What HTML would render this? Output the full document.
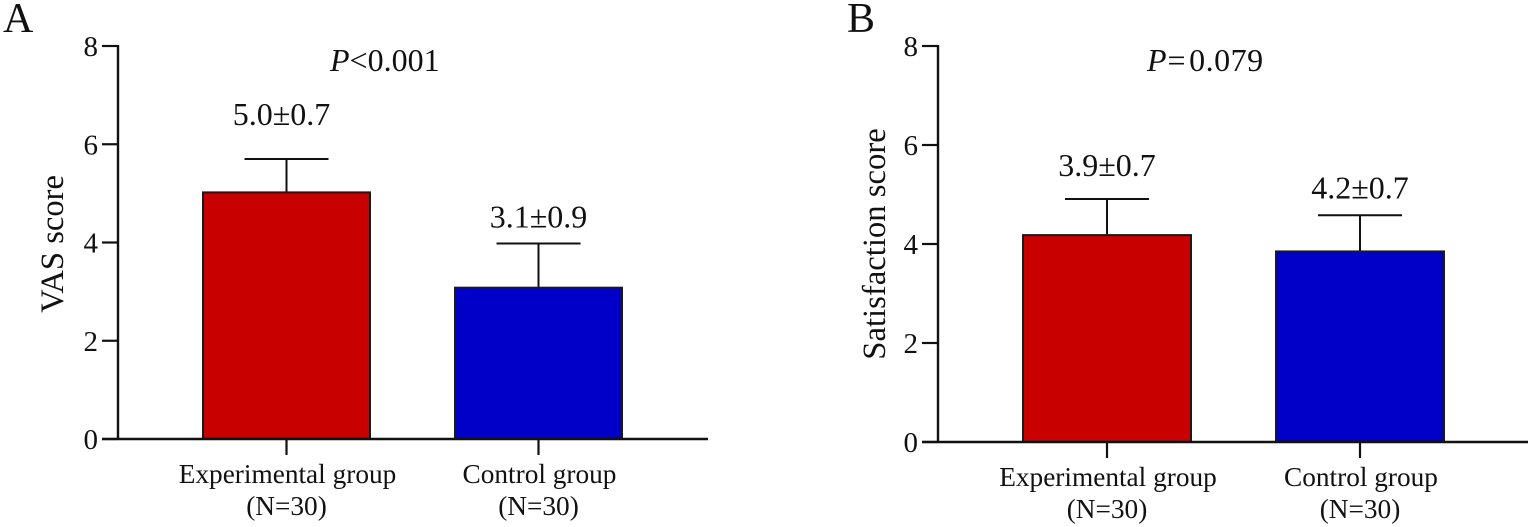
<!DOCTYPE html>
<html><head><meta charset="utf-8"><title>VAS and satisfaction scores</title>
<style>
html,body{margin:0;padding:0;background:#fff;width:1535px;height:527px;overflow:hidden}
svg{display:block;font-family:"Liberation Serif",serif;fill:#111}
</style></head>
<body>
<svg id="chart" width="1535" height="527" viewBox="0 0 1535 527" xmlns="http://www.w3.org/2000/svg"></svg>
<script>
const categories = ["Experimental group", "Control group"];
const sampleLabels = ["(N=30)", "(N=30)"];
const yTicks = [0, 2, 4, 6, 8];
const vasMeans = [5.02, 3.08];
const vasErrorTops = [5.70, 3.98];
const vasLabels = ["5.0±0.7", "3.1±0.9"];
const satisfactionMeans = [4.18, 3.85];
const satisfactionErrorTops = [4.91, 4.58];
const satisfactionLabels = ["3.9±0.7", "4.2±0.7"];
const colors = ["#c80000", "#0000c8"];

const NS = "http://www.w3.org/2000/svg";
const root = document.getElementById("chart");
function make(parent, tag, attrs, text) {
  const el = document.createElementNS(NS, tag);
  for (const k in attrs) el.setAttribute(k, attrs[k]);
  if (text !== undefined) el.textContent = text;
  parent.appendChild(el);
  return el;
}
function line(parent, x1, y1, x2, y2, w) {
  return make(parent, "line", {x1, y1, x2, y2, stroke: "#111", "stroke-width": w});
}
function panel(cfg) {
  const g = make(root, "g", {});
  
  
  const y = v => cfg.y0 + (cfg.y8 - cfg.y0) * v / 8;
  const x = i => cfg.firstCenter + i * cfg.step;

  const letter = make(g, "text", {x: cfg.letterX, y: 32, "font-size": 42}, cfg.letter);
  
  

  const title = make(g, "text", {x: cfg.titleX, y: 71, "font-size": 32});
  
  
  make(title, "tspan", {"font-style": "italic", "letter-spacing": cfg.signGap[0]}, "P");
  make(title, "tspan", {"letter-spacing": cfg.signGap[1]}, cfg.pSign);
  make(title, "tspan", {"letter-spacing": cfg.signGap[2]}, cfg.pDigits);

  const yt = make(g, "text", {
    transform: `translate(${cfg.yTitleX},${cfg.yTitleY}) rotate(-90)`,
    "font-size": cfg.yTitleSize, "text-anchor": "middle"
  }, cfg.yTitle);
  
  

  cfg.means.forEach((m, i) => {
    const err = make(g, "g", {});
    
    
    line(err, x(i), y(m), x(i), y(cfg.tops[i]), 2);
    line(err, x(i) - 42, y(cfg.tops[i]), x(i) + 42, y(cfg.tops[i]), 2);

    const bar = make(g, "rect", {
      x: x(i) - cfg.barW / 2, y: y(m), width: cfg.barW, height: y(0) - y(m),
      fill: colors[i], stroke: "#1a1a1a", "stroke-width": 2
    });
    
    

    const value = make(g, "text", {
      x: x(i) + cfg.labelShift[i], y: y(cfg.tops[i]) - cfg.labelGap[i], "font-size": 32, "text-anchor": "middle"
    }, cfg.labels[i]);
    
    

    line(g, x(i), y(0), x(i), y(0) + 16, 2.2);

    const cat = make(g, "text", {
      x: x(i) + 1, y: y(0) + 44, "font-size": 27.3, "text-anchor": "middle"
    }, categories[i]);
    
    

    const n = make(g, "text", {
      x: x(i), y: y(0) + 76, "font-size": 27.3, "text-anchor": "middle"
    }, sampleLabels[i]);
    
    
  });

  const yAxis = line(g, cfg.axisX, y(8) - 1, cfg.axisX, y(0), 2.4);
  
  
  const xAxis = line(g, cfg.axisX - 16, y(0), cfg.xEnd, y(0), 2.4);
  
  

  yTicks.forEach(t => {
    line(g, cfg.axisX - 16, y(t), cfg.axisX, y(t), 2.2);
    const lab = make(g, "text", {
      x: cfg.axisX - 20, y: y(t) + 10, "font-size": 29, "text-anchor": "end"
    }, t);
    
    
  });
}

panel({
  name: "panel-a-vas", letter: "A", letterX: 3, pSign: "<", pDigits: "0.001", titleX: 330, signGap: [0, 0, 0],
  y0: 439, y8: 46, axisX: 118, xEnd: 708, firstCenter: 286.5, step: 252, barW: 167,
  yTitle: "VAS score", yTitleX: 63, yTitleY: 244, yTitleSize: 32.6,
  means: vasMeans, tops: vasErrorTops, labels: vasLabels, labelGap: [34, 16], labelShift: [-5, 0]
});
panel({
  name: "panel-b-satisfaction", letter: "B", letterX: 847, pSign: "=", pDigits: "0.079", titleX: 1147, signGap: [1, 3.5, 0.5],
  y0: 442, y8: 46, axisX: 938, xEnd: 1528, firstCenter: 1107, step: 253, barW: 168,
  yTitle: "Satisfaction score", yTitleX: 885, yTitleY: 244, yTitleSize: 32.7,
  means: satisfactionMeans, tops: satisfactionErrorTops, labels: satisfactionLabels, labelGap: [23, 17], labelShift: [0, 0]
});
</script>
</body></html>
